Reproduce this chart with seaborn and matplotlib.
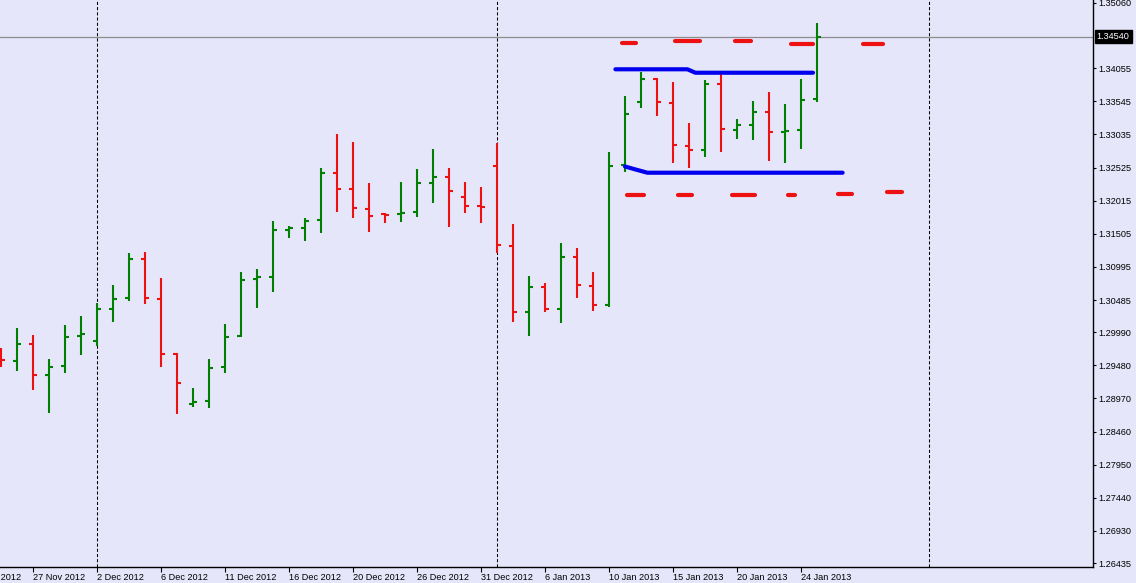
import numpy as np
import pandas as pd
import matplotlib
matplotlib.use("Agg")
import matplotlib.pyplot as plt
import seaborn as sns
from matplotlib.transforms import blended_transform_factory

# ---------------- data ----------------
bar_index = list(range(52))
opens = [1.29685, 1.29546, 1.29808, 1.29330, 1.29469, 1.29931, 1.29854, 1.30347, 1.30516, 1.31117,
         1.30501, 1.29654, 1.28884, 1.28930, 1.29454, 1.29931, 1.30809, 1.30840, 1.31564, 1.31595,
         1.31718, 1.32442, 1.32195, 1.31887, 1.31810, 1.31810, 1.31841, 1.32288, 1.32380, 1.32072,
         1.31933, 1.32549, 1.31317, 1.30301, 1.30686, 1.30347, 1.31148, 1.30701, 1.30409, 1.32565,
         1.33535, 1.33889, 1.33520, 1.32858, 1.32796, 1.33812, 1.33104, 1.33181, 1.33381, 1.33073,
         1.33104, 1.33581]
highs = [1.29746, 1.30054, 1.29947, 1.29577, 1.30101, 1.30239, 1.30439, 1.30717, 1.31210, 1.31225,
         1.30824, 1.29669, 1.29130, 1.29577, 1.30116, 1.30917, 1.30963, 1.31702, 1.31625, 1.31749,
         1.32519, 1.33042, 1.32919, 1.32288, 1.31825, 1.32303, 1.32503, 1.32811, 1.32519, 1.32303,
         1.32226, 1.32904, 1.31656, 1.30855, 1.30747, 1.31364, 1.31287, 1.30917, 1.32765, 1.33628,
         1.33997, 1.33905, 1.33843, 1.33212, 1.33874, 1.33982, 1.33273, 1.33551, 1.33689, 1.33504,
         1.33889, 1.34752]
lows = [1.29454, 1.29392, 1.29099, 1.28745, 1.29361, 1.29639, 1.29777, 1.30147, 1.30470, 1.30424,
        1.29454, 1.28730, 1.28838, 1.28822, 1.29361, 1.29916, 1.30362, 1.30609, 1.31441, 1.31394,
        1.31518, 1.31841, 1.31749, 1.31533, 1.31672, 1.31687, 1.31764, 1.31980, 1.31610, 1.31826,
        1.31672, 1.31210, 1.30147, 1.29931, 1.30301, 1.30131, 1.30516, 1.30316, 1.30378, 1.32457,
        1.33443, 1.33320, 1.32596, 1.32519, 1.32688, 1.32765, 1.32965, 1.32950, 1.32626, 1.32596,
        1.32811, 1.33535]
closes = [1.29561, 1.29808, 1.29330, 1.29454, 1.29916, 1.29962, 1.30347, 1.30501, 1.31117, 1.30516,
          1.29654, 1.29207, 1.28915, 1.29438, 1.29916, 1.30794, 1.30840, 1.31564, 1.31595, 1.31702,
          1.32442, 1.32195, 1.31903, 1.31779, 1.31795, 1.31826, 1.32288, 1.32380, 1.32164, 1.31933,
          1.31918, 1.31333, 1.30301, 1.30686, 1.30347, 1.31148, 1.30717, 1.30409, 1.32549, 1.33350,
          1.33889, 1.33535, 1.32873, 1.32796, 1.33812, 1.33119, 1.33181, 1.33381, 1.33073, 1.33089,
          1.33566, 1.34540]

xtick_index = [2, 6, 10, 14, 18, 22, 26, 30, 34, 38, 42, 46, 50]
xtick_labels = ["27 Nov 2012", "2 Dec 2012", "6 Dec 2012", "11 Dec 2012", "16 Dec 2012",
                "20 Dec 2012", "26 Dec 2012", "31 Dec 2012", "6 Jan 2013", "10 Jan 2013",
                "15 Jan 2013", "20 Jan 2013", "24 Jan 2013"]
partial_label_index = -2
partial_label = "22 Nov 2012"

ytick_values = [1.35060, 1.34055, 1.33545, 1.33035, 1.32525, 1.32015, 1.31505, 1.30995, 1.30485,
                1.29990, 1.29480, 1.28970, 1.28460, 1.27950, 1.27440, 1.26930, 1.26435]
ytick_labels = ["1.35060", "1.34055", "1.33545", "1.33035", "1.32525", "1.32015", "1.31505",
                "1.30995", "1.30485", "1.29990", "1.29480", "1.28970", "1.28460", "1.27950",
                "1.27440", "1.26930", "1.26435"]
current_price = 1.34540
current_label = "1.34540"

separator_index = [6, 31, 58]

upper_blue_x = [38.4, 42.9, 43.4, 50.75]
upper_blue_y = [1.34039, 1.34039, 1.33986, 1.33986]
lower_blue_x = [39.0, 39.6, 40.4, 52.6]
lower_blue_y = [1.32542, 1.32500, 1.32446, 1.32446]

upper_dash_start = [38.8, 42.1, 45.9, 49.4, 53.9]
upper_dash_end = [39.7, 43.7, 46.9, 50.75, 55.1]
upper_dash_level = [1.34449, 1.34475, 1.34479, 1.34433, 1.34433]
lower_dash_start = [39.1, 42.3, 45.7, 49.2, 52.3, 55.35]
lower_dash_end = [40.2, 43.2, 47.1, 49.6, 53.2, 56.3]
lower_dash_level = [1.32107, 1.32107, 1.32107, 1.32107, 1.32123, 1.32144]

# ---------------- style ----------------
BG = "#E6E6FA"
UP = "#008000"
DOWN = "#EE1111"
BLUE = "#0000EE"

sns.set_style("white")
plt.rcParams["font.family"] = ["Liberation Sans", "DejaVu Sans"]

fig = plt.figure(figsize=(11.36, 5.83), dpi=100, facecolor=BG)
ax = fig.add_axes([0.0, 1 - 567 / 583, 1093 / 1136, 567 / 583])
ax.set_facecolor(BG)

ax.set_xlim(-0.0625, 68.25)
ax.set_ylim(1.263734, 1.351062)

# separators and current price line
for s in separator_index:
    ax.axvline(s, color="black", lw=0.75, linestyle=(0, (3, 2)), zorder=1)
ax.axhline(current_price, color="#8C8C8C", lw=0.9, zorder=1)

# OHLC bars
df = pd.DataFrame({"i": bar_index, "o": opens, "h": highs, "l": lows, "c": closes})
cols = np.where(df["c"] >= df["o"], UP, DOWN)
tick_w = 0.27
ax.vlines(df["i"], df["l"], df["h"], colors=cols, lw=1.5, zorder=3)
ax.hlines(df["o"], df["i"] - tick_w, df["i"], colors=cols, lw=1.5, zorder=3)
ax.hlines(df["c"], df["i"], df["i"] + tick_w, colors=cols, lw=1.5, zorder=3)

# blue channel lines
up_df = pd.DataFrame({"x": upper_blue_x, "y": upper_blue_y})
lo_df = pd.DataFrame({"x": lower_blue_x, "y": lower_blue_y})
sns.lineplot(data=up_df, x="x", y="y", ax=ax, color=BLUE, lw=3.0, zorder=4,
             solid_capstyle="round")
sns.lineplot(data=lo_df, x="x", y="y", ax=ax, color=BLUE, lw=3.0, zorder=4,
             solid_capstyle="round")

# red dashed levels
for s, e, v in zip(upper_dash_start, upper_dash_end, upper_dash_level):
    ax.plot([s, e], [v, v], color=DOWN, lw=3.0, solid_capstyle="round", zorder=4)
for s, e, v in zip(lower_dash_start, lower_dash_end, lower_dash_level):
    ax.plot([s, e], [v, v], color=DOWN, lw=3.0, solid_capstyle="round", zorder=4)

# axes styling
for sp in ["left", "top"]:
    ax.spines[sp].set_visible(False)
for sp in ["right", "bottom"]:
    ax.spines[sp].set_visible(True)
    ax.spines[sp].set_color("black")
    ax.spines[sp].set_linewidth(1.0)

ax.yaxis.tick_right()
ax.set_yticks(ytick_values)
ax.set_yticklabels(ytick_labels)
ax.tick_params(axis="y", direction="out", length=2.5, width=0.8, pad=1.5,
               labelsize=6.6, colors="black", right=True, left=False)

ax.set_xticks(xtick_index)
ax.set_xticklabels(xtick_labels)
ax.tick_params(axis="x", direction="out", length=3.5, width=0.8, pad=0.5,
               labelsize=6.6, colors="black", bottom=True)
for lab in ax.get_xticklabels():
    lab.set_ha("left")

trans_x = blended_transform_factory(ax.transData, ax.transAxes)
ax.text(partial_label_index, -0.0105, partial_label, transform=trans_x, ha="left", va="top",
        fontsize=6.6, color="black", clip_on=False)

ax.set_xlabel("")
ax.set_ylabel("")
ax.grid(False)

# current price tag
trans_y = blended_transform_factory(ax.transAxes, ax.transData)
ax.text(1.0035, current_price, current_label, transform=trans_y, ha="left", va="center",
        fontsize=6.6, color="white", clip_on=False,
        bbox=dict(boxstyle="square,pad=0.2", facecolor="black", edgecolor="black"))

fig.savefig("out.png", dpi=100, facecolor=BG)
